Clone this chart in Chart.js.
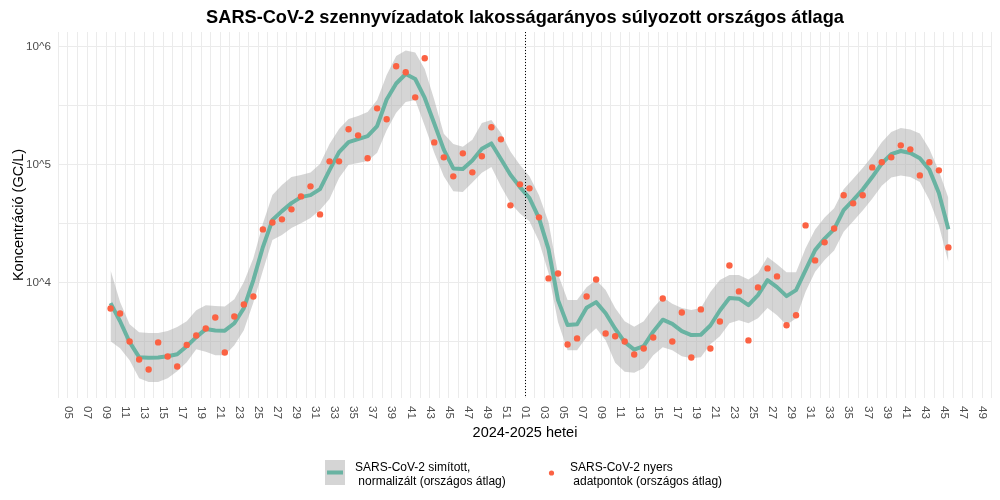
<!DOCTYPE html>
<html lang="hu">
<head>
<meta charset="UTF-8" />
<script src="https://cdn.jsdelivr.net/npm/chart.js@4.4.1/dist/chart.umd.min.js"></script>
<style>
  html, body { margin: 0; padding: 0; background: #fff; }
</style>
</head>
<body>
<canvas id="myChart" width="1000" height="500"></canvas>
<script>
// weeks on the x axis (2024-W05 .. 2025-W49)
const weeks2024 = ['05','06','07','08','09','10','11','12','13','14','15','16','17','18','19','20',
  '21','22','23','24','25','26','27','28','29','30','31','32','33','34','35','36','37','38','39','40',
  '41','42','43','44','45','46','47','48','49','50','51','52'];
const weeks2025 = ['01','02','03','04','05','06','07','08','09','10','11','12','13','14','15','16',
  '17','18','19','20','21','22','23','24','25','26','27','28','29','30','31','32','33','34','35','36',
  '37','38','39','40','41','42','43','44','45','46','47','48','49'];
const weekLabels = weeks2024.concat(weeks2025);
const firstDataWeek = 4;      // 2024-W09
const yearBreakWeek = 48;     // 2025-W01, dotted line
const sampleOffset = 0.47;    // samples fall mid-week

// log10 of concentration (GC/L), one value per week from 2024-W09
const smoothLog = [
  3.824, 3.671, 3.493, 3.366, 3.362, 3.363, 3.374, 3.391, 3.459, 3.536,
  3.604, 3.593, 3.591, 3.654, 3.782, 4.020, 4.300, 4.529, 4.605, 4.673,
  4.724, 4.741, 4.792, 4.953, 5.106, 5.191, 5.216, 5.242, 5.327, 5.552,
  5.688, 5.768, 5.726, 5.565, 5.348, 5.127, 4.967, 4.962, 5.034, 5.134,
  5.179, 5.047, 4.914, 4.809, 4.716, 4.546, 4.283, 3.850, 3.638, 3.646,
  3.786, 3.833, 3.739, 3.607, 3.493, 3.430, 3.459, 3.582, 3.684, 3.649,
  3.587, 3.553, 3.556, 3.635, 3.762, 3.868, 3.862, 3.807, 3.892, 4.020,
  3.960, 3.884, 3.935, 4.104, 4.274, 4.372, 4.452, 4.614, 4.699, 4.788,
  4.894, 5.009, 5.089, 5.115, 5.098, 5.053, 4.957, 4.758, 4.452
];
const upperLog = [
  4.104, 3.833, 3.646, 3.578, 3.570, 3.570, 3.587, 3.621, 3.671, 3.765,
  3.807, 3.799, 3.795, 3.858, 4.003, 4.206, 4.500, 4.741, 4.826, 4.894,
  4.911, 4.932, 5.004, 5.174, 5.301, 5.386, 5.412, 5.446, 5.548, 5.760,
  5.921, 5.968, 5.951, 5.811, 5.550, 5.262, 5.174, 5.152, 5.211, 5.352,
  5.378, 5.267, 5.110, 4.996, 4.900, 4.740, 4.512, 4.070, 3.850, 3.850,
  3.960, 4.020, 3.935, 3.782, 3.671, 3.624, 3.671, 3.782, 3.875, 3.819,
  3.782, 3.767, 3.782, 3.918, 4.020, 4.062, 4.062, 4.025, 4.079, 4.215,
  4.155, 4.087, 4.087, 4.290, 4.450, 4.550, 4.630, 4.790, 4.880, 4.970,
  5.070, 5.190, 5.276, 5.310, 5.297, 5.263, 5.132, 4.945, 4.716
];
const lowerLog = [
  3.502, 3.442, 3.340, 3.188, 3.156, 3.156, 3.188, 3.247, 3.323, 3.434,
  3.411, 3.383, 3.383, 3.468, 3.595, 3.830, 4.100, 4.359, 4.402, 4.461,
  4.503, 4.546, 4.614, 4.707, 4.885, 4.998, 5.013, 5.030, 5.100, 5.290,
  5.440, 5.531, 5.548, 5.330, 5.100, 4.900, 4.773, 4.767, 4.847, 4.930,
  4.979, 4.817, 4.673, 4.584, 4.520, 4.350, 4.080, 3.663, 3.425, 3.425,
  3.536, 3.612, 3.510, 3.318, 3.242, 3.233, 3.275, 3.383, 3.451, 3.425,
  3.374, 3.357, 3.366, 3.476, 3.544, 3.654, 3.680, 3.654, 3.697, 3.782,
  3.722, 3.638, 3.697, 3.920, 4.090, 4.190, 4.270, 4.430, 4.520, 4.610,
  4.710, 4.820, 4.890, 4.907, 4.894, 4.851, 4.699, 4.486, 4.172
];
const rawLog = [
  3.779, 3.737, 3.499, 3.346, 3.261, 3.491, 3.372, 3.287, 3.470, 3.550,
  3.609, 3.703, 3.406, 3.711, 3.813, 3.881, 4.450, 4.509, 4.535, 4.620,
  4.730, 4.815, 4.577, 5.027, 5.027, 5.299, 5.248, 5.053, 5.477, 5.384,
  5.834, 5.783, 5.570, 5.902, 5.188, 5.061, 4.900, 5.095, 4.934, 5.070,
  5.316, 5.214, 4.654, 4.832, 4.798, 4.552, 4.034, 4.076, 3.474, 3.525,
  3.881, 4.025, 3.567, 3.544, 3.499, 3.389, 3.440, 3.533, 3.864, 3.499,
  3.745, 3.363, 3.771, 3.440, 3.669, 4.144, 3.924, 3.508, 3.958, 4.119,
  4.051, 3.637, 3.722, 4.484, 4.187, 4.340, 4.458, 4.739, 4.671, 4.739,
  4.976, 5.019, 5.061, 5.163, 5.129, 4.908, 5.019, 4.951, 4.297
];

// y axis breaks (log10) and their labels
const yBreaks = [3.5, 4, 4.5, 5, 5.5, 6];
const yTickLabels = ['', '10^4', '', '10^5', '', '10^6'];

const FONT = '"Liberation Sans", Arial, Helvetica, sans-serif';
const lineColor = '#69b3a2';
const pointColor = '#fb6243';
const ribbonColor = 'rgba(175,175,175,0.52)';

function toPoints(arr) {
  return arr.map((v, i) => ({ x: firstDataWeek + i + sampleOffset, y: Math.pow(10, v) }));
}

const extras = {
  id: 'extras',
  afterDatasetsDraw(chart) {
    const { ctx, chartArea, scales } = chart;
    const x = Math.round(scales.x.getPixelForValue(yearBreakWeek)) + 0.5;
    ctx.save();
    ctx.strokeStyle = '#000';
    ctx.lineWidth = 1;
    ctx.setLineDash([1, 2]);
    ctx.beginPath();
    ctx.moveTo(x, chartArea.top);
    ctx.lineTo(x, chartArea.bottom);
    ctx.stroke();
    ctx.restore();
  },
  afterDraw(chart) {
    const { ctx, chartArea, scales } = chart;
    const cx = (chartArea.left + chartArea.right) / 2;
    ctx.save();
    // title
    ctx.fillStyle = '#000';
    ctx.font = 'bold 18.2px ' + FONT;
    ctx.textAlign = 'center';
    ctx.textBaseline = 'alphabetic';
    ctx.fillText('SARS-CoV-2 szennyvízadatok lakosságarányos súlyozott országos átlaga', cx, 23);

    // x tick labels, rotated clockwise
    ctx.font = '11.7px ' + FONT;
    ctx.fillStyle = '#4d4d4d';
    for (let i = 0; i < weekLabels.length; i += 2) {
      const px = scales.x.getPixelForValue(i);
      ctx.save();
      ctx.translate(px, chartArea.bottom + 8);
      ctx.rotate(Math.PI / 2);
      ctx.textAlign = 'left';
      ctx.textBaseline = 'middle';
      ctx.fillText(weekLabels[i], 0, 0);
      ctx.restore();
    }

    // axis titles
    ctx.fillStyle = '#000';
    ctx.font = '14.5px ' + FONT;
    ctx.textAlign = 'center';
    ctx.textBaseline = 'alphabetic';
    ctx.fillText('2024-2025 hetei', cx, 437);
    ctx.save();
    ctx.translate(23, (chartArea.top + chartArea.bottom) / 2);
    ctx.rotate(-Math.PI / 2);
    ctx.fillText('Koncentráció (GC/L)', 0, 0);
    ctx.restore();

    // legend
    ctx.fillStyle = ribbonColor;
    ctx.fillRect(325, 460, 20, 25);
    ctx.strokeStyle = lineColor;
    ctx.lineWidth = 4;
    ctx.beginPath();
    ctx.moveTo(327, 472.5);
    ctx.lineTo(343, 472.5);
    ctx.stroke();
    ctx.fillStyle = pointColor;
    ctx.beginPath();
    ctx.arc(551.5, 473, 2.6, 0, Math.PI * 2);
    ctx.fill();
    ctx.fillStyle = '#000';
    ctx.font = '12px ' + FONT;
    ctx.textAlign = 'left';
    ctx.fillText('SARS-CoV-2 simított,', 355, 471);
    ctx.fillText(' normalizált (országos átlag)', 355, 485);
    ctx.fillText('SARS-CoV-2 nyers', 570, 471);
    ctx.fillText(' adatpontok (országos átlag)', 570, 485);
    ctx.restore();
  }
};

const ctx = document.getElementById('myChart').getContext('2d');
new Chart(ctx, {
  type: 'line',
  data: {
    datasets: [
      {
        label: 'SARS-CoV-2 nyers adatpontok (országos átlag)',
        data: toPoints(rawLog),
        showLine: false,
        pointRadius: 3.2,
        pointBackgroundColor: pointColor,
        pointBorderWidth: 0,
        borderColor: pointColor
      },
      {
        label: 'SARS-CoV-2 simított, normalizált (országos átlag)',
        data: toPoints(smoothLog),
        borderColor: lineColor,
        borderWidth: 4,
        borderJoinStyle: 'round',
        pointRadius: 0,
        tension: 0,
        fill: false
      },
      {
        label: 'upper',
        data: toPoints(upperLog),
        borderWidth: 0,
        pointRadius: 0,
        backgroundColor: ribbonColor,
        fill: '+1'
      },
      {
        label: 'lower',
        data: toPoints(lowerLog),
        borderWidth: 0,
        pointRadius: 0,
        fill: false
      }
    ]
  },
  options: {
    responsive: false,
    animation: false,
    devicePixelRatio: 1,
    events: [],
    layout: { padding: { top: 32, right: 8, bottom: 102, left: 0 } },
    plugins: { legend: { display: false }, tooltip: { enabled: false } },
    scales: {
      x: {
        type: 'linear',
        min: -1.05,
        max: weekLabels.length + 0.05,
        afterBuildTicks: (s) => {
          s.ticks = [];
          for (let i = -1; i <= weekLabels.length; i++) s.ticks.push({ value: i });
        },
        ticks: { display: false },
        grid: { color: '#ebebeb', lineWidth: 1, drawTicks: false },
        border: { display: false }
      },
      y: {
        type: 'logarithmic',
        min: Math.pow(10, 3.0195),
        max: Math.pow(10, 6.1246),
        afterBuildTicks: (s) => {
          s.ticks = yBreaks.map(v => ({ value: Math.pow(10, v) }));
        },
        afterFit: (s) => { s.width = 58; },
        ticks: {
          callback: (val, i) => yTickLabels[i],
          color: '#4d4d4d',
          font: { family: FONT, size: 11.7 },
          padding: 7,
          autoSkip: false
        },
        grid: { color: '#ebebeb', lineWidth: 1, drawTicks: false },
        border: { display: false }
      }
    }
  },
  plugins: [extras]
});
</script>
</body>
</html>
